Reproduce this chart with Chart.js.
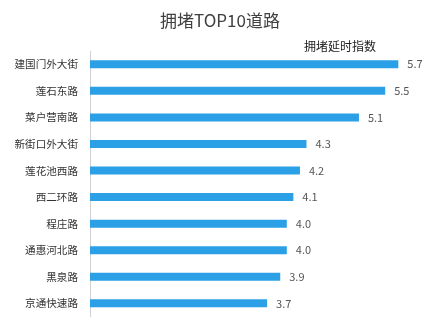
<!DOCTYPE html>
<html>
<head>
<meta charset="utf-8">
<script src="https://cdn.jsdelivr.net/npm/chart.js@4"></script>
<style>
    html, body { margin: 0; padding: 0; background: #fff; }
    #wrap { width: 446px; height: 335px; }
</style>
</head>
<body>
<div id="wrap"><canvas id="roadChart"></canvas></div>
<script>
// Roads and their congestion delay index
const roads = ['建国门外大街', '莲石东路', '菜户营南路', '新街口外大街', '莲花池西路',
               '西二环路', '程庄路', '通惠河北路', '黑泉路', '京通快速路'];
const delayIndex = [5.7, 5.5, 5.1, 4.3, 4.2, 4.1, 4.0, 4.0, 3.9, 3.7];
const chartTitle = '拥堵TOP10道路';
const seriesName = '拥堵延时指数';

const FONT = '"Noto Sans CJK SC", "Noto Sans", sans-serif';

// Value text at the end of each bar
const barValues = {
    id: 'barValues',
    afterDatasetsDraw(chart) {
        const ctx = chart.ctx;
        const meta = chart.getDatasetMeta(0);
        ctx.save();
        ctx.font = '11px ' + FONT;
        ctx.fillStyle = '#555';
        ctx.textAlign = 'left';
        ctx.textBaseline = 'middle';
        meta.data.forEach((bar, i) => {
            ctx.fillText(delayIndex[i].toFixed(1), bar.x + 9, bar.y);
        });
        ctx.restore();
    }
};

// Title centred on the canvas, series name above the plot on the right
const headings = {
    id: 'headings',
    afterDraw(chart) {
        const ctx = chart.ctx;
        const area = chart.chartArea;
        ctx.save();
        ctx.textBaseline = 'middle';

        ctx.font = '17px ' + FONT;
        ctx.fillStyle = '#404040';
        ctx.textAlign = 'center';
        ctx.fillText(chartTitle, chart.width / 2 - 3, 21);

        ctx.font = '12px ' + FONT;
        ctx.fillStyle = '#222';
        ctx.textAlign = 'right';
        ctx.fillText(seriesName, area.right - 42, area.top - 5);
        ctx.restore();
    }
};

new Chart(document.getElementById('roadChart'), {
    type: 'bar',
    data: {
        labels: roads,
        datasets: [{
            label: seriesName,
            data: delayIndex,
            backgroundColor: '#2ba0e6',
            barPercentage: 0.3,
            categoryPercentage: 1
        }]
    },
    options: {
        indexAxis: 'y',
        responsive: true,
        maintainAspectRatio: false,
        animation: false,
        layout: {
            padding: { left: 0, right: 28, top: 51, bottom: 14 }
        },
        plugins: {
            legend: { display: false },
            tooltip: { enabled: false },
            title: { display: false }
        },
        scales: {
            x: {
                display: false,
                min: 1,
                max: 6
            },
            y: {
                afterFit(scale) { scale.width = 90; },
                grid: { display: false, drawTicks: false },
                border: { display: true, color: '#d0d0d0', width: 1 },
                ticks: {
                    color: '#333',
                    padding: 12,
                    font: { family: FONT, size: 10.6 }
                }
            }
        }
    },
    plugins: [barValues, headings]
});
</script>
</body>
</html>
